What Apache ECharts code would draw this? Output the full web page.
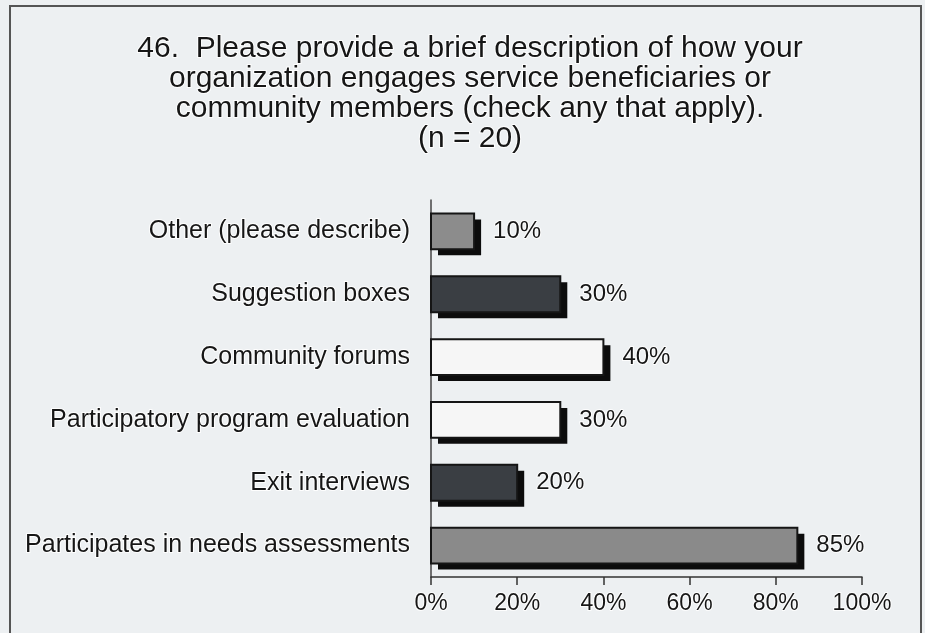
<!DOCTYPE html>
<html>
<head>
<meta charset="utf-8">
<script src="https://cdn.jsdelivr.net/npm/echarts@6/dist/echarts.min.js"></script>
<style>
  html, body { margin: 0; padding: 0; background: #edf0f2; }
  #chart { width: 925px; height: 633px; }
</style>
</head>
<body>
<div id="chart"></div>
<script>
// Survey question 46: ways organizations engage beneficiaries (n = 20)
const categories = [
  'Other (please describe)',
  'Suggestion boxes',
  'Community forums',
  'Participatory program evaluation',
  'Exit interviews',
  'Participates in needs assessments'
];
const percentages = [10, 30, 40, 30, 20, 85];
const barColors = ['#8c8c8c', '#3a3e43', '#f6f6f6', '#f6f6f6', '#3a3e43', '#8a8a8a'];
const tickValues = [0, 20, 40, 60, 80, 100];

const titleText = '46.  Please provide a brief description of how your\n' +
  'organization engages service beneficiaries or\n' +
  'community members (check any that apply).\n' +
  '(n = 20)';

const FONT = '"Liberation Sans", Arial, sans-serif';
const TEXT_COLOR = '#161616';
const halo = { textBorderColor: 'rgba(255,255,255,0.9)', textBorderWidth: 2 };

// Each bar: outlined rectangle with a solid drop shadow offset down-right,
// plus its percentage label to the right.
function renderBar(params, api) {
  const value = api.value(0);
  const cat = api.value(1);
  const start = api.coord([0, cat]);
  const end = api.coord([value, cat]);
  const h = api.size([0, 1])[1] * 0.57;
  const x = start[0];
  const y = start[1] - h / 2;
  const w = end[0] - start[0];
  return {
    type: 'group',
    children: [
      {
        type: 'rect',
        shape: { x: x + 7, y: y + 6, width: w, height: h },
        style: { fill: '#0c0c0c' }
      },
      {
        type: 'rect',
        shape: { x: x, y: y, width: w, height: h },
        style: { fill: barColors[params.dataIndex], stroke: '#151515', lineWidth: 2 }
      },
      {
        type: 'text',
        x: end[0] + 19,
        y: end[1],
        style: {
          text: value + '%',
          fontFamily: FONT,
          fontSize: 24,
          fill: TEXT_COLOR,
          verticalAlign: 'middle',
          align: 'left',
          stroke: halo.textBorderColor,
          lineWidth: halo.textBorderWidth
        }
      }
    ]
  };
}

const chart = echarts.init(document.getElementById('chart'));
chart.setOption({
  backgroundColor: '#edf0f2',
  animation: false,
  title: {
    text: titleText,
    left: 465,
    top: 29,
    textAlign: 'center',
    textStyle: Object.assign({
      fontFamily: FONT,
      fontSize: 30,
      fontWeight: 'normal',
      color: TEXT_COLOR,
      lineHeight: 30
    }, halo)
  },
  graphic: [{
    type: 'rect',
    shape: { x: 10, y: 6, width: 911, height: 640 },
    style: { fill: 'none', stroke: '#555', lineWidth: 2 },
    silent: true
  }],
  grid: { left: 431, right: 63, top: 200, bottom: 56 },
  xAxis: {
    type: 'value',
    min: 0,
    max: 100,
    interval: 20,
    axisLine: { show: true, lineStyle: { color: '#333', width: 1.5 } },
    axisTick: { show: true, inside: false, length: 8, lineStyle: { color: '#333', width: 1.5 } },
    splitLine: { show: false },
    axisLabel: Object.assign({
      formatter: v => tickValues.includes(v) ? v + '%' : '',
      fontFamily: FONT,
      fontSize: 23,
      color: TEXT_COLOR,
      margin: 15
    }, halo)
  },
  yAxis: {
    type: 'category',
    data: categories,
    inverse: true,
    axisLine: { show: true, lineStyle: { color: '#444', width: 1.5 } },
    axisTick: { show: false },
    axisLabel: Object.assign({
      fontFamily: FONT,
      fontSize: 25,
      color: TEXT_COLOR,
      margin: 21
    }, halo)
  },
  series: [{
    type: 'custom',
    renderItem: renderBar,
    encode: { x: 0, y: 1 },
    data: percentages.map((v, i) => [v, i]),
    clip: false
  }]
});
</script>
</body>
</html>
